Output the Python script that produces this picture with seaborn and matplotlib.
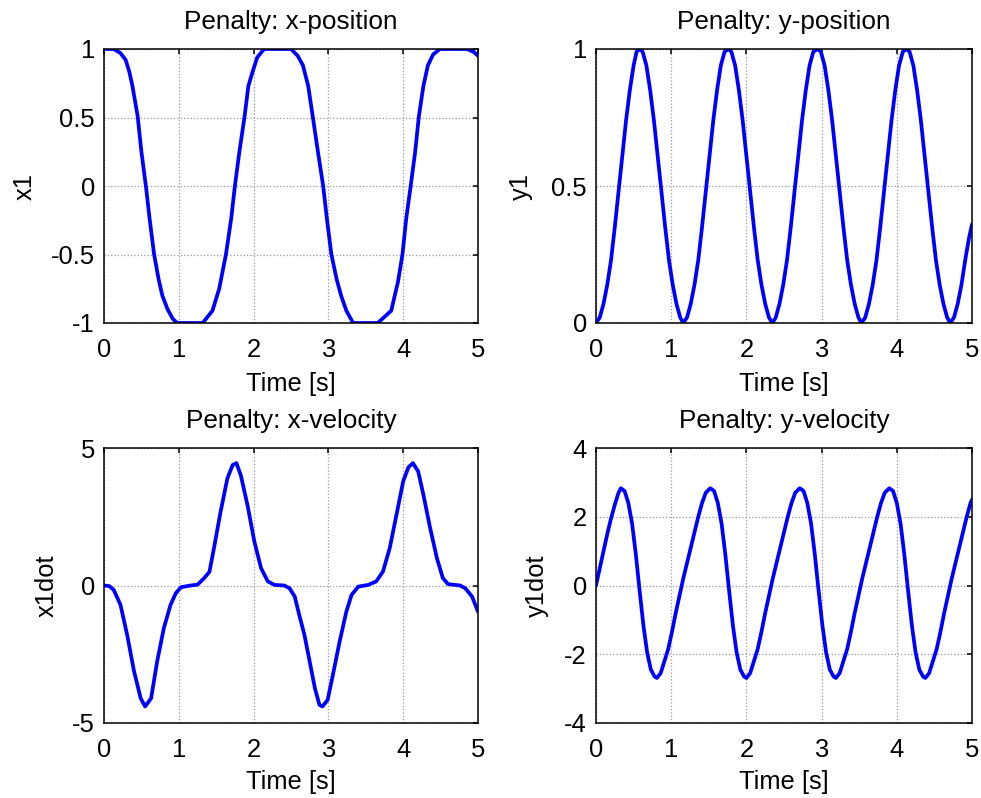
import matplotlib
matplotlib.use("Agg")
import matplotlib.pyplot as plt
import seaborn as sns
import pandas as pd

# ---------------- data ----------------
x1_t = [0, 0.13, 0.22, 0.29, 0.34, 0.38, 0.45, 0.50, 0.56, 0.61, 0.67, 0.73, 0.78,
        0.85, 0.92, 0.98, 1.32, 1.45, 1.54, 1.63, 1.70, 1.75, 1.81, 1.88, 1.93, 1.99,
        2.05, 2.14, 2.50, 2.59, 2.66, 2.73, 2.79, 2.86, 2.93, 2.98, 3.04, 3.11, 3.17,
        3.24, 3.33, 3.66, 3.84, 3.93, 3.99, 4.04, 4.10, 4.16, 4.21, 4.27, 4.33, 4.40,
        4.49, 4.85, 4.94, 5.0]
x1_v = [1.0, 1.0, 0.97, 0.92, 0.83, 0.73, 0.51, 0.25, 0.0, -0.24, -0.5, -0.68, -0.80,
        -0.90, -0.97, -1.0, -1.0, -0.91, -0.75, -0.5, -0.24, 0.0, 0.25, 0.51, 0.73, 0.84,
        0.94, 1.0, 1.0, 0.95, 0.88, 0.73, 0.51, 0.25, 0.0, -0.24, -0.5, -0.68, -0.80,
        -0.91, -1.0, -1.0, -0.91, -0.70, -0.5, -0.24, 0.0, 0.25, 0.51, 0.73, 0.88, 0.96,
        1.0, 1.0, 0.98, 0.95]

y1_t = [0, 0.05, 0.10, 0.15, 0.20, 0.25, 0.30, 0.35, 0.40, 0.45, 0.50, 0.54, 0.58,
        0.62, 0.67, 0.72, 0.77, 0.82, 0.87, 0.92, 0.97, 1.02, 1.07, 1.12, 1.16,
        1.21, 1.26, 1.31, 1.36, 1.41, 1.46, 1.51, 1.56, 1.61, 1.66, 1.71, 1.76,
        1.80, 1.85, 1.90, 1.95, 2.00, 2.05, 2.10, 2.15, 2.20, 2.25, 2.30, 2.345,
        2.39, 2.44, 2.49, 2.54, 2.59, 2.64, 2.69, 2.74, 2.79, 2.84, 2.89, 2.95,
        2.99, 3.04, 3.09, 3.14, 3.19, 3.24, 3.29, 3.34, 3.39, 3.44, 3.49, 3.53,
        3.58, 3.63, 3.68, 3.73, 3.78, 3.83, 3.88, 3.93, 3.98, 4.03, 4.08, 4.13,
        4.17, 4.22, 4.27, 4.32, 4.37, 4.42, 4.47, 4.52, 4.57, 4.62, 4.67, 4.71,
        4.76, 4.81, 4.86, 4.91, 4.96, 5.00]
y1_v = [0, .02, .07, .14, .23, .35, .48, .61, .74, .85, .94, .99, 1.0,
        .99, .94, .85, .74, .61, .48, .35, .23, .14, .07, .02, 0,
        .02, .07, .14, .23, .35, .48, .61, .74, .85, .94, .99, 1.0,
        .99, .94, .85, .74, .61, .48, .35, .23, .14, .07, .02, 0,
        .02, .07, .14, .23, .35, .48, .61, .74, .85, .94, .99, 1.0,
        .99, .94, .85, .74, .61, .48, .35, .23, .14, .07, .02, 0,
        .02, .07, .14, .23, .35, .48, .61, .74, .85, .94, .99, 1.0,
        .99, .94, .85, .74, .61, .48, .35, .23, .14, .07, .02, 0,
        .02, .07, .14, .23, .31, .36]

x1d_t = [0, 0.07, 0.13, 0.22, 0.31, 0.40, 0.49, 0.55, 0.63, 0.71, 0.80, 0.89, 0.96,
         1.03, 1.16, 1.25, 1.34, 1.41, 1.47, 1.56, 1.65, 1.72, 1.77, 1.83, 1.92, 2.01,
         2.10, 2.19, 2.28, 2.41, 2.48, 2.55, 2.61, 2.68, 2.75, 2.82, 2.88, 2.92, 2.99,
         3.06, 3.15, 3.24, 3.31, 3.40, 3.53, 3.64, 3.73, 3.82, 3.91, 4.00, 4.07, 4.13,
         4.20, 4.27, 4.36, 4.45, 4.53, 4.60, 4.76, 4.83, 4.92, 5.0]
x1d_v = [0, -0.02, -0.16, -0.7, -1.8, -3.1, -4.1, -4.4, -4.1, -2.77, -1.55, -0.7, -0.28,
         -0.06, 0.0, 0.03, 0.27, 0.5, 1.36, 2.7, 3.9, 4.38, 4.45, 4.0, 2.9, 1.6,
         0.63, 0.15, 0.02, 0.0, -0.1, -0.4, -1.07, -1.8, -2.77, -3.74, -4.34, -4.4, -4.16,
         -3.25, -2.04, -0.95, -0.34, -0.04, 0.02, 0.15, 0.51, 1.36, 2.57, 3.79, 4.3, 4.45,
         4.15, 3.30, 2.09, 1.0, 0.27, 0.05, 0.0, -0.1, -0.4, -0.95]

y1d_t = [0.00, 0.05, 0.10, 0.15, 0.20, 0.25, 0.30, 0.33,
         0.38, 0.43, 0.48, 0.53, 0.58, 0.63, 0.68, 0.73, 0.78, 0.81,
         0.86, 0.91, 0.96, 1.01, 1.06, 1.11, 1.16, 1.21, 1.26, 1.31, 1.36, 1.41, 1.46, 1.52,
         1.57, 1.62, 1.67, 1.72, 1.77, 1.82, 1.87, 1.92, 1.97, 2.00,
         2.05, 2.10, 2.15, 2.20, 2.25, 2.30, 2.35, 2.40, 2.45, 2.50, 2.55, 2.60, 2.65, 2.71,
         2.76, 2.81, 2.86, 2.91, 2.96, 3.01, 3.06, 3.11, 3.16, 3.19,
         3.24, 3.29, 3.34, 3.39, 3.44, 3.49, 3.54, 3.59, 3.64, 3.69, 3.74, 3.79, 3.84, 3.90,
         3.95, 4.00, 4.05, 4.10, 4.15, 4.20, 4.25, 4.30, 4.35, 4.38,
         4.43, 4.48, 4.53, 4.58, 4.63, 4.68, 4.73, 4.78, 4.83, 4.88, 4.93, 4.98, 5.00]
y1d_v = [0.0, 0.5, 1.0, 1.5, 1.95, 2.35, 2.7, 2.83,
         2.75, 2.40, 1.80, 0.90, -0.15, -1.15, -1.95, -2.45, -2.65, -2.69,
         -2.55, -2.2, -1.85, -1.35, -0.8, -0.3, 0.2, 0.65, 1.1, 1.55, 2.0, 2.4, 2.7, 2.83,
         2.75, 2.40, 1.80, 0.90, -0.15, -1.15, -1.95, -2.45, -2.65, -2.69,
         -2.55, -2.2, -1.85, -1.35, -0.8, -0.3, 0.2, 0.65, 1.1, 1.55, 2.0, 2.4, 2.7, 2.83,
         2.75, 2.40, 1.80, 0.90, -0.15, -1.15, -1.95, -2.45, -2.65, -2.69,
         -2.55, -2.2, -1.85, -1.35, -0.8, -0.3, 0.2, 0.65, 1.1, 1.55, 2.0, 2.4, 2.7, 2.83,
         2.75, 2.40, 1.80, 0.90, -0.15, -1.15, -1.95, -2.45, -2.65, -2.69,
         -2.55, -2.2, -1.85, -1.35, -0.8, -0.3, 0.2, 0.65, 1.1, 1.55, 2.0, 2.4, 2.5]

titles = ["Penalty: x-position", "Penalty: y-position",
          "Penalty: x-velocity", "Penalty: y-velocity"]
ylabels = ["x1", "y1", "x1dot", "y1dot"]
xlabel = "Time [s]"
xticks = [0, 1, 2, 3, 4, 5]
xticklabels = ["0", "1", "2", "3", "4", "5"]
yticks_list = [[-1, -0.5, 0, 0.5, 1], [0, 0.5, 1], [-5, 0, 5], [-4, -2, 0, 2, 4]]
yticklabels_list = [["-1", "-0.5", "0", "0.5", "1"], ["0", "0.5", "1"],
                    ["-5", "0", "5"], ["-4", "-2", "0", "2", "4"]]
ylims = [(-1, 1), (0, 1), (-5, 5), (-4, 4)]

# ---------------- styling ----------------
sns.set_style("white")
plt.rcParams["font.family"] = ["Liberation Sans", "DejaVu Sans"]
plt.rcParams["text.color"] = "black"
plt.rcParams["axes.labelcolor"] = "black"
plt.rcParams["xtick.color"] = "black"
plt.rcParams["ytick.color"] = "black"

fig = plt.figure(figsize=(9.81, 7.98), dpi=100)
W, H = 981.0, 798.0
boxes = [(104, 49, 478, 323), (596, 49, 972, 323),
         (104, 448, 478, 723), (596, 448, 972, 723)]
ylabel_x = [-0.179, -0.167, -0.121, -0.124]
xlabel_y = [-0.178, -0.178, -0.171, -0.171]

series = [(x1_t, x1_v), (y1_t, y1_v), (x1d_t, x1d_v), (y1d_t, y1d_v)]

FS = 18.4
for i, (l, t, r, b) in enumerate(boxes):
    ax = fig.add_axes([l / W, 1 - b / H, (r - l) / W, (b - t) / H])
    tt, vv = series[i]
    df = pd.DataFrame({"t": tt, "v": vv})
    sns.lineplot(data=df, x="t", y="v", ax=ax, color="#0000ff", linewidth=2.7,
                 estimator=None, sort=False)
    ax.set_xlim(0, 5)
    ax.set_ylim(*ylims[i])
    ax.set_xticks(xticks)
    ax.set_xticklabels(xticklabels)
    ax.set_yticks(yticks_list[i])
    ax.set_yticklabels(yticklabels_list[i])
    ax.grid(True, linestyle=":", color="#999999", linewidth=0.9)
    for sp in ax.spines.values():
        sp.set_visible(True)
        sp.set_color("black")
        sp.set_linewidth(1.1)
    ax.tick_params(axis="both", direction="in", length=3.5, width=1.1,
                   top=True, right=True, colors="black", labelcolor="black",
                   labelsize=FS)
    ax.tick_params(axis="x", pad=11)
    ax.tick_params(axis="y", pad=6.5)
    ax.set_title(titles[i], fontsize=18.8, pad=14.4, color="black")
    ax.set_xlabel(xlabel, fontsize=FS, color="black")
    ax.set_ylabel(ylabels[i], fontsize=FS, color="black")
    ax.yaxis.set_label_coords(ylabel_x[i], 0.5)
    ax.xaxis.set_label_coords(0.5, xlabel_y[i])

fig.savefig("out.png", dpi=100)
